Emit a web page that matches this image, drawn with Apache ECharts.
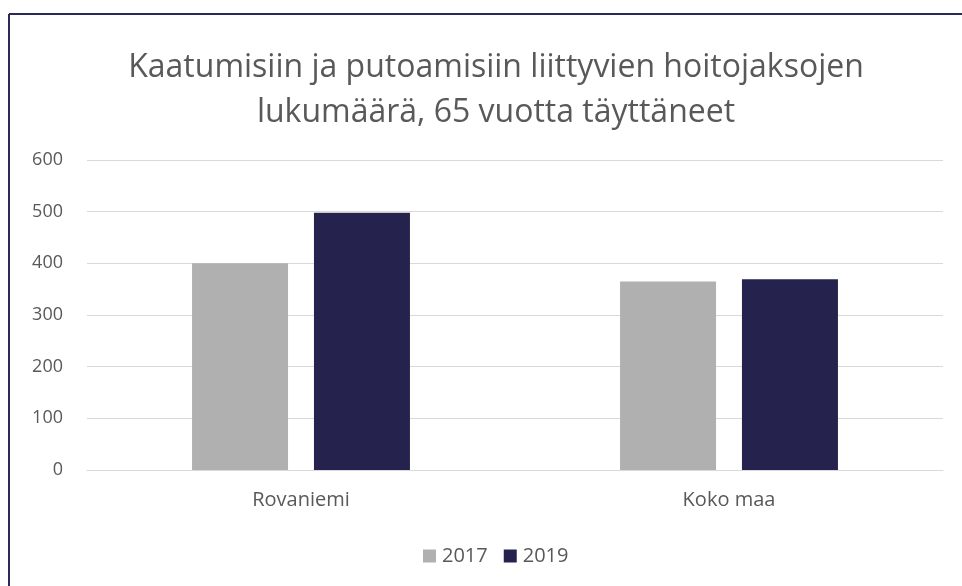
<!DOCTYPE html>
<html>
<head>
<meta charset="utf-8">
<script src="https://cdn.jsdelivr.net/npm/echarts@6/dist/echarts.min.js"></script>
<style>
  html, body { margin: 0; padding: 0; background: #fff; }
  #chart { width: 962px; height: 586px; }
</style>
</head>
<body>
<div id="chart"></div>
<script>
const categories = ['Rovaniemi', 'Koko maa']
const years = ['2017', '2019']
const values2017 = [400, 365]
const values2019 = [498, 369]
const yTicks = { min: 0, max: 600, interval: 100 }

const textColor = '#595959'
const font = 'Open Sans'

const chart = echarts.init(document.getElementById('chart'))

const option = {
  backgroundColor: '#fff',
  animation: false,
  title: {
    text: 'Kaatumisiin ja putoamisiin liittyvien hoitojaksojen\nlukumäärä, 65 vuotta täyttäneet',
    left: 491,
    top: 40,
    textAlign: 'center',
    textStyle: {
      fontFamily: font,
      fontWeight: 'normal',
      fontSize: 32,
      lineHeight: 45,
      color: textColor
    }
  },
  // frame lines, top and left edges
  graphic: [
    { type: 'line', shape: { x1: 9, y1: 14, x2: 962, y2: 14 }, style: { stroke: '#2b2a57', lineWidth: 2 } },
    { type: 'line', shape: { x1: 9, y1: 14, x2: 9, y2: 586 }, style: { stroke: '#2b2a57', lineWidth: 2 } }
  ],
  legend: {
    data: years,
    left: 418,
    top: 541,
    itemWidth: 13,
    itemHeight: 13,
    itemGap: 16,
    icon: 'rect',
    textStyle: { fontFamily: font, fontSize: 20, color: textColor, padding: [0, 0, 0, 1] }
  },
  grid: { left: 87, right: 19, top: 160, bottom: 116 },
  xAxis: {
    type: 'category',
    data: categories,
    axisLine: { lineStyle: { color: '#d9d9d9' } },
    axisTick: { show: false },
    axisLabel: { margin: 20, fontFamily: font, fontSize: 20, color: textColor }
  },
  yAxis: {
    type: 'value',
    min: yTicks.min,
    max: yTicks.max,
    interval: yTicks.interval,
    axisLine: { show: false },
    axisTick: { show: false },
    splitLine: { lineStyle: { color: '#d9d9d9' } },
    axisLabel: { margin: 24, fontFamily: font, fontSize: 18, color: textColor }
  },
  series: [
    {
      name: '2017',
      type: 'bar',
      data: values2017,
      barWidth: 96,
      barGap: '27%',
      itemStyle: { color: '#b0b0b0' }
    },
    {
      name: '2019',
      type: 'bar',
      data: values2019,
      barWidth: 96,
      itemStyle: { color: '#25224e' }
    }
  ]
}

chart.setOption(option)
</script>
</body>
</html>
